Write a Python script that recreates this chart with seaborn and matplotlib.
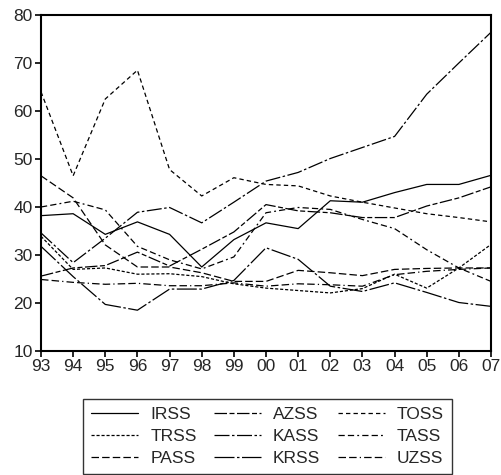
import numpy as np
import pandas as pd
import seaborn as sns
import matplotlib.pyplot as plt
from matplotlib.lines import Line2D

# year labels on the x axis
years = ['93', '94', '95', '96', '97', '98', '99', '00', '01', '02', '03', '04', '05', '06', '07']

# series values
IRSS = [38.2, 38.6, 34.3, 36.9, 34.3, 27.5, 33.2, 36.7, 35.5, 41.3, 41.0, 43.0, 44.7, 44.7, 46.6]
AZSS = [25.6, 27.3, 27.8, 30.6, 27.7, 31.2, 34.8, 40.5, 39.2, 38.8, 37.8, 37.8, 40.2, 41.9, 44.2]
TOSS = [64.0, 46.5, 62.5, 68.5, 47.8, 42.3, 46.1, 44.7, 44.4, 42.3, 41.0, 39.8, 38.6, 37.8, 36.9]
TRSS = [33.9, 27.0, 27.3, 26.0, 26.1, 25.5, 24.0, 23.1, 22.6, 22.1, 23.0, 26.0, 23.1, 27.3, 32.2]
KASS = [34.6, 28.4, 33.5, 38.9, 39.9, 36.7, 41.0, 45.4, 47.2, 50.1, 52.4, 54.7, 63.5, 70.0, 76.4]
TASS = [40.0, 41.2, 39.4, 31.8, 29.0, 27.1, 29.6, 38.8, 39.9, 39.5, 37.4, 35.5, 31.1, 27.3, 24.5]
PASS = [46.5, 41.9, 32.1, 27.5, 27.5, 26.3, 24.5, 24.5, 26.8, 26.3, 25.7, 27.0, 27.2, 27.3, 27.3]
KRSS = [31.8, 25.5, 19.7, 18.5, 22.9, 22.9, 24.7, 31.5, 29.1, 23.5, 22.4, 24.2, 22.2, 20.1, 19.3]
UZSS = [24.9, 24.3, 23.9, 24.1, 23.6, 23.6, 24.2, 23.5, 24.0, 23.8, 23.5, 25.9, 26.6, 27.0, 27.3]

names = ['IRSS', 'AZSS', 'TOSS', 'TRSS', 'KASS', 'TASS', 'PASS', 'KRSS', 'UZSS']
values = [IRSS, AZSS, TOSS, TRSS, KASS, TASS, PASS, KRSS, UZSS]

# dash patterns, eviews style
dash_map = {'IRSS': '',
            'AZSS': (10, 2, 4, 2),
            'TOSS': (3.5, 2.5),
            'TRSS': (2.5, 1.5),
            'KASS': (12, 2, 2, 2),
            'TASS': (5, 2.5, 5, 2.5, 1.5, 2.5),
            'PASS': (6, 2.5),
            'KRSS': (16, 2, 2, 2),
            'UZSS': (6, 2.5, 6, 2.5, 1, 2.5)}

rows = []
for n, v in zip(names, values):
    for i, val in enumerate(v):
        rows.append({'t': i, 'value': val, 'series': n})
df = pd.DataFrame(rows)

sns.set_style('ticks')
plt.rcParams['font.family'] = ['Liberation Sans', 'DejaVu Sans']

fig = plt.figure(figsize=(5.01, 4.75), dpi=100)
ax = fig.add_axes([41 / 501, 1 - 351 / 475, 450 / 501, 336 / 475])

sns.lineplot(data=df, x='t', y='value', style='series', style_order=names,
             dashes=dash_map, color='black', linewidth=0.9, legend=False, ax=ax)

ax.set_xlim(0, len(years) - 1)
ax.set_ylim(10, 80)
ax.set_xticks(range(len(years)))
ax.set_xticklabels(years)
ax.set_yticks(range(10, 81, 10))
ax.set_xlabel('')
ax.set_ylabel('')
ax.tick_params(axis='both', direction='out', length=4, width=1.2, labelsize=12.5, pad=2, color='black')
for s in ax.spines.values():
    s.set_linewidth(1.5)
    s.set_color('black')

# legend: three columns, filled row by row like the original
order = ['IRSS', 'TRSS', 'PASS', 'AZSS', 'KASS', 'KRSS', 'TOSS', 'TASS', 'UZSS']
handles = []
for n in order:
    d = dash_map[n]
    if d == '':
        handles.append(Line2D([], [], color='black', lw=0.9, linestyle='-'))
    else:
        handles.append(Line2D([], [], color='black', lw=0.9, linestyle=(0, d)))
leg = fig.legend(handles, order, loc='upper center', bbox_to_anchor=(267.5 / 501, 1 - 399 / 475),
                 ncol=3, frameon=True, fancybox=False, edgecolor='black', fontsize=12.5,
                 handlelength=2.7, handletextpad=0.7, columnspacing=1.0, labelspacing=0.4,
                 borderpad=0.45, borderaxespad=0)
leg.get_frame().set_linewidth(1.0)

fig.savefig('out.png', dpi=100)
